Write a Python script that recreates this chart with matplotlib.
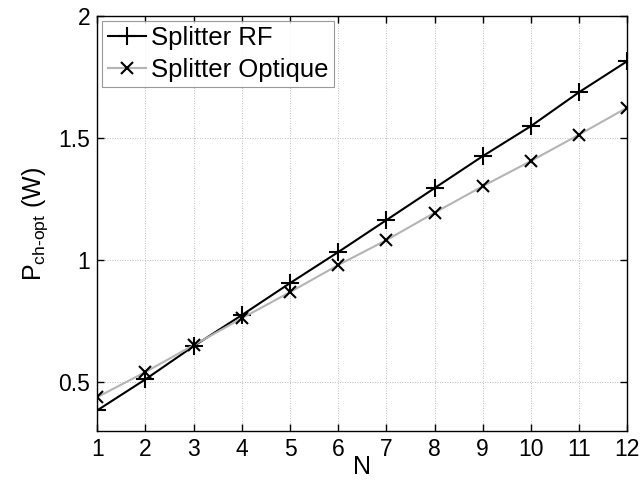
import matplotlib
matplotlib.use("Agg")
import matplotlib.pyplot as plt

plt.rcParams['font.family'] = ['Liberation Sans', 'DejaVu Sans']
plt.rcParams['mathtext.fontset'] = 'custom'
plt.rcParams['mathtext.rm'] = 'Liberation Sans'

N = [1, 2, 3, 4, 5, 6, 7, 8, 9, 10, 11, 12]
rf = [0.385, 0.512, 0.648, 0.775, 0.906, 1.033, 1.164, 1.295, 1.426, 1.549, 1.688, 1.815]
optique = [0.439, 0.542, 0.652, 0.762, 0.869, 0.980, 1.082, 1.194, 1.303, 1.406, 1.514, 1.625]

fig = plt.figure(figsize=(6.4, 4.86), dpi=100)
ax = fig.add_axes([0.152, 0.113, 0.828, 0.854])

ax.plot(N, rf, color='black', lw=1.5, marker='+', ms=13, mew=1.5, label='Splitter RF', zorder=3)
ax.plot(N, optique, color='#b4b4b4', lw=1.5, marker='x', ms=9, mew=1.5, mec='black', label='Splitter Optique', zorder=3)

ax.set_xlim(1, 12)
ax.set_ylim(0.3, 2)
ax.set_xticks(N)
ax.set_yticks([0.5, 1, 1.5, 2])
ax.set_yticklabels(['0.5', '1', '1.5', '2'])
ax.grid(True, linestyle=(0, (1, 2)), color='#a8a8a8', lw=0.6)
ax.tick_params(direction='in', labelsize=16.5, length=5, top=True, right=True, width=1, pad=5)
for s in ax.spines.values():
    s.set_linewidth(1)
ax.set_xlabel('N', fontsize=18, labelpad=-4)
ax.set_ylabel(r'P$_{\mathregular{ch\text{-}opt}}$ (W)', fontsize=18, labelpad=6)

leg = ax.legend(loc='upper left', fontsize=18.5, frameon=True, fancybox=False, edgecolor='#808080',
                borderpad=0.2, handlelength=1.5, handletextpad=0.2, labelspacing=0.3, borderaxespad=0.2)
leg.get_frame().set_linewidth(0.8)

fig.savefig('out.png', dpi=100)
